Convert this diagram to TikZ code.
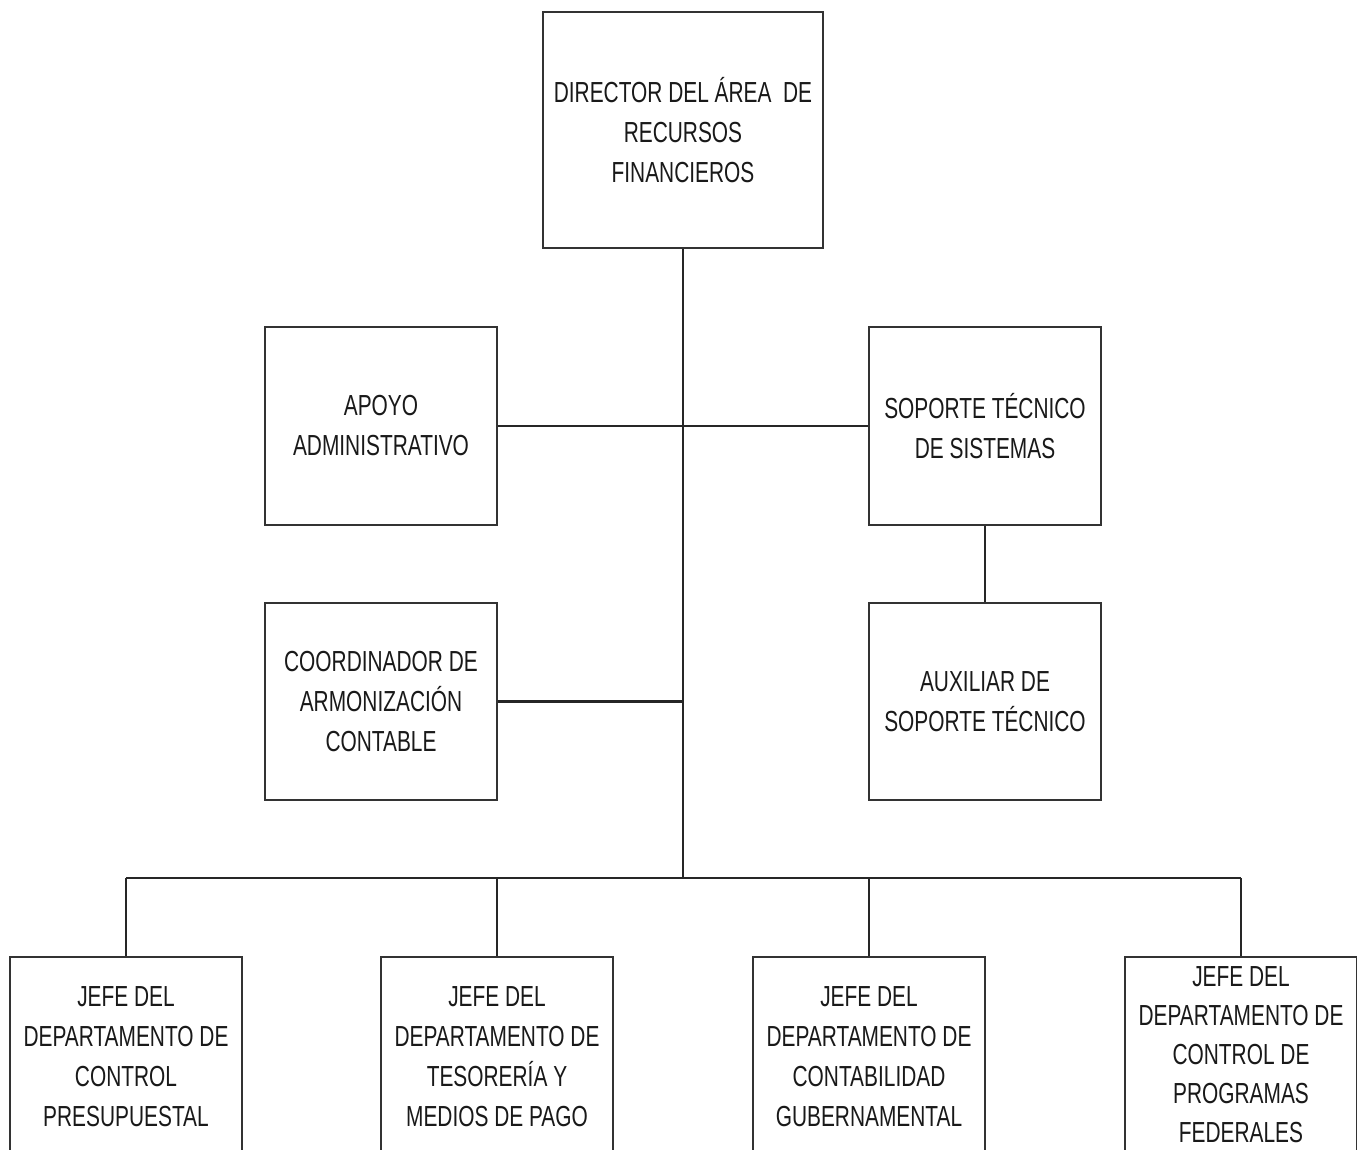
\documentclass[tikz,border=0pt]{standalone}
\usepackage{fontspec}
\setmainfont[FakeStretch=0.72]{Liberation Sans}
\begin{document}
\begin{tikzpicture}[x=1pt,y=-1pt,
  box/.style={draw=black!80, line width=2.6pt, fill=white, align=center,
    font=\fontsize{29}{40}\selectfont, text=black!90, inner sep=0pt},
  link/.style={draw=black!85, line width=2.6pt}]
\useasboundingbox (0,0) rectangle (1357,1149);
\begin{scope}
\clip (0,0) rectangle (1357,1149);
\node[box, minimum width=280pt, minimum height=236pt] (dir) at (683,130) {DIRECTOR DEL ÁREA\ \ DE\\RECURSOS\\FINANCIEROS};
\node[box, minimum width=232pt, minimum height=198pt] (apoyo) at (381,426) {APOYO\\ADMINISTRATIVO};
\node[box, minimum width=232pt, minimum height=198pt] (soporte) at (985,426) {SOPORTE TÉCNICO\\DE SISTEMAS};
\node[box, minimum width=232pt, minimum height=197pt] (coord) at (381,701.5) {COORDINADOR DE\\ARMONIZACIÓN\\CONTABLE};
\node[box, minimum width=232pt, minimum height=197pt] (aux) at (985,701.5) {AUXILIAR DE\\SOPORTE TÉCNICO};
\node[box, minimum width=232pt, minimum height=200pt] (b1) at (126,1057) {JEFE DEL\\DEPARTAMENTO DE\\CONTROL\\PRESUPUESTAL};
\node[box, minimum width=232pt, minimum height=200pt] (b2) at (497,1057) {JEFE DEL\\DEPARTAMENTO DE\\TESORERÍA Y\\MEDIOS DE PAGO};
\node[box, minimum width=232pt, minimum height=200pt] (b3) at (869,1057) {JEFE DEL\\DEPARTAMENTO DE\\CONTABILIDAD\\GUBERNAMENTAL};
\node[box, minimum width=232pt, minimum height=196pt, font=\fontsize{29}{39}\selectfont] (b4) at (1241,1055) {JEFE DEL\\DEPARTAMENTO DE\\CONTROL DE\\PROGRAMAS\\FEDERALES};
\coordinate (bus) at (683,878);
\path[link] (dir.south) -- (bus);
\path[link] (apoyo.east) -- (soporte.west);
\path[link] (coord.east) -- (dir.south |- coord.east);
\path[link] (soporte.south) -- (aux.north);
\path[link] (b1.north |- bus) -- (b4.north |- bus);
\foreach \b in {b1,b2,b3,b4} \path[link] (\b.north) -- (\b.north |- bus);
\end{scope}
\end{tikzpicture}
\end{document}
